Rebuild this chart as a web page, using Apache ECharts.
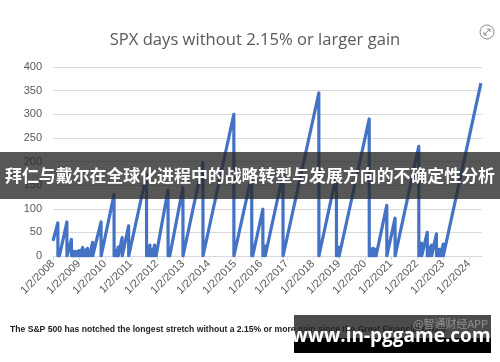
<!DOCTYPE html>
<html>
<head>
<meta charset="utf-8">
<script src="https://cdn.jsdelivr.net/npm/echarts@6/dist/echarts.min.js"></script>
<style>
html,body{margin:0;padding:0;background:#fff;}
#c{width:500px;height:362px;}
</style>
</head>
<body>
<div id="c"></div>
<script>
// Reset dates (vertices of the sawtooth) and the day counts at each vertex
var dates = [
 '2008-01-02','2008-03-10','2008-03-11','2008-03-17','2008-03-18','2008-03-31','2008-04-01',
 '2008-07-15','2008-07-16','2008-09-17','2008-09-18','2008-09-30','2008-10-01','2008-10-12','2008-10-13',
 '2008-10-27','2008-10-28','2008-11-03','2008-11-04','2008-11-12','2008-11-13','2008-11-20','2008-11-21',
 '2008-12-05','2008-12-08','2008-12-15','2008-12-16','2009-01-01','2009-01-02','2009-01-20','2009-01-21',
 '2009-01-27','2009-01-28','2009-02-23','2009-02-24','2009-03-09','2009-03-10','2009-03-22','2009-03-23',
 '2009-04-08','2009-04-09','2009-05-03','2009-05-04','2009-05-17','2009-05-18','2009-05-31','2009-06-01',
 '2009-07-12','2009-07-13','2009-07-14','2009-07-15','2009-11-08','2009-11-09',
 '2010-05-09','2010-05-10','2010-05-26','2010-05-27','2010-06-09','2010-06-10','2010-07-06','2010-07-07',
 '2010-08-31','2010-09-01','2010-11-30','2010-12-01','2011-08-08','2011-08-09','2011-08-22','2011-08-23',
 '2011-09-25','2011-09-26','2011-10-09','2011-10-10','2011-10-26','2011-10-27','2011-11-29','2011-11-30',
 '2011-12-19','2011-12-20','2012-06-05','2012-06-06','2012-06-28','2012-06-29','2013-01-01','2013-01-02',
 '2013-10-09','2013-10-10','2014-12-17','2014-12-18','2015-08-25','2015-08-26','2015-09-07','2015-09-08',
 '2016-01-28','2016-01-29','2016-02-29','2016-03-01','2016-11-06','2016-11-07','2018-03-25','2018-03-26',
 '2018-11-27','2018-11-28','2018-12-25','2018-12-26','2019-01-03','2019-01-04','2020-03-01','2020-03-02',
 '2020-03-23','2020-03-24','2020-04-05','2020-04-06','2020-04-28','2020-04-29','2020-05-17','2020-05-18',
 '2020-06-04','2020-06-05','2020-11-03','2020-11-04','2021-02-28','2021-03-01','2022-01-27','2022-01-28',
 '2022-03-08','2022-03-09','2022-05-26','2022-05-27','2022-06-23','2022-06-24','2022-07-26','2022-07-27',
 '2022-10-02','2022-10-03','2022-10-20','2022-10-21','2022-11-09','2022-11-10','2022-11-29','2022-11-30',
 '2023-01-05','2023-01-06','2024-06-17'
];
var days = [
 32,70,0,4,0,8,0,
 72,0,35,0,8,0,9,0,
 10,0,5,0,7,0,6,0,
 10,0,6,0,11,0,12,0,
 5,0,18,0,10,0,8,0,
 13,0,16,0,10,0,9,0,
 29,0,2,0,72,0,
 130,0,12,0,9,0,19,0,
 39,0,64,0,173,0,9,0,
 23,0,10,0,13,0,23,0,
 14,0,140,0,16,0,145,0,
 198,0,300,0,171,0,8,0,
 99,0,21,0,174,0,345,0,
 172,0,19,0,6,0,290,0,
 15,0,8,0,16,0,13,0,
 14,0,107,0,80,0,232,0,
 27,0,50,0,19,0,23,0,
 47,0,13,0,14,0,14,0,
 25,0,366
];
var yTicks = [0,50,100,150,200,250,300,350,400];
var yearLabels = ['1/2/2008','1/2/2009','1/2/2010','1/2/2011','1/2/2012','1/2/2013','1/2/2014','1/2/2015','1/2/2016','1/2/2017','1/2/2018','1/2/2019','1/2/2020','1/2/2021','1/2/2022','1/2/2023','1/2/2024'];
var titleText = 'SPX days without 2.15% or larger gain';
var captionText = 'The S&P 500 has notched the longest stretch without a 2.15% or more gain since the Great Financial Crisis';
var bannerText = '拜仁与戴尔在全球化进程中的战略转型与发展方向的不确定性分析';
var siteText = 'www.in-pggame.com';
var markText = '@智通财经APP';

// date -> fractional year with Jan 2 at the integer
function toYear(s){
  var p = s.split('-'), y = +p[0];
  var d = Date.UTC(y, +p[1]-1, +p[2]);
  var base = Date.UTC(y, 0, 2);
  return y + (d - base) / (365.25*86400000);
}
var pts = dates.map(function(d,i){ return [toYear(d), days[i]]; });

var chart = echarts.init(document.getElementById('c'), null, {renderer:'canvas'});
chart.setOption({
  animation:false,
  backgroundColor:'#ffffff',
  grid:{left:53, right:18, top:67, bottom:106, containLabel:false},
  xAxis:{
    type:'value', min:2008, max:2024.5, interval:1,
    axisLine:{show:true, lineStyle:{color:'#d9d9d9', width:1}},
    axisTick:{show:true, length:4, lineStyle:{color:'#d9d9d9'}},
    splitLine:{show:false},
    axisLabel:{
      rotate:45, margin:6, color:'#595959', fontSize:11, fontFamily:'Liberation Sans, Arial',
      showMaxLabel:false,
      formatter:function(v){ var i = Math.round(v-2008); return (Math.abs(v-Math.round(v))<1e-6 && yearLabels[i]) ? yearLabels[i] : ''; }
    }
  },
  yAxis:{
    type:'value', min:0, max:400, interval:50,
    axisLine:{show:false}, axisTick:{show:false},
    splitLine:{lineStyle:{color:'#d9d9d9', width:1}},
    axisLabel:{margin:11, color:'#595959', fontSize:11, fontFamily:'Liberation Sans, Arial',
      formatter:function(v){ return yTicks.indexOf(v) >= 0 ? String(v) : ''; }}
  },
  series:[{
    type:'line', data:pts, showSymbol:false, symbol:'none',
    lineStyle:{color:'#4472C4', width:3.2, join:'round'},
    z:3
  }],
  graphic:[
    {type:'text', x:255, y:40, z:10,
     style:{text:titleText, fill:'#595959', textAlign:'center', textVerticalAlign:'middle', font:'16.6px "Open Sans", "Liberation Sans", sans-serif'}},
    {type:'circle', shape:{cx:487, cy:32, r:7}, style:{fill:'none', stroke:'#8a8a8a', lineWidth:1}, z:10},
    {type:'line', shape:{x1:484, y1:35, x2:490, y2:29}, style:{stroke:'#8a8a8a', lineWidth:1}, z:10},
    {type:'polyline', shape:{points:[[487,29],[490,29],[490,32]]}, style:{stroke:'#8a8a8a', fill:'none', lineWidth:1}, z:10},
    {type:'polyline', shape:{points:[[484,32],[484,35],[487,35]]}, style:{stroke:'#8a8a8a', fill:'none', lineWidth:1}, z:10},
    {type:'text', x:10, y:330, z:10,
     style:{text:captionText, fill:'#222222', textVerticalAlign:'middle', font:'600 8.6px "Liberation Sans", Arial, sans-serif'}},
    {type:'rect', shape:{x:0, y:152, width:500, height:47}, style:{fill:'rgba(40,40,40,0.78)'}, z:20},
    {type:'text', x:250, y:176, z:21,
     style:{text:bannerText, fill:'#ffffff', textAlign:'center', textVerticalAlign:'middle', font:'bold 16.9px "Noto Sans CJK SC", sans-serif'}},
    {type:'rect', shape:{x:294, y:315, width:197, height:23}, style:{fill:'rgba(35,35,35,0.82)'}, z:20},
    {type:'rect', shape:{x:294, y:338, width:197, height:15}, style:{fill:'#000000'}, z:20},
    {type:'text', x:488, y:318, z:21,
     style:{text:markText, fill:'rgba(200,200,200,0.55)', textAlign:'right', textVerticalAlign:'top', font:'11px "Noto Sans CJK SC", sans-serif'}},
    {type:'text', x:391, y:337, z:22,
     style:{text:siteText, fill:'#ffffff', textAlign:'center', textVerticalAlign:'middle', font:'bold 19px "Open Sans", "DejaVu Sans", sans-serif'}}
  ]
});
</script>
</body>
</html>
